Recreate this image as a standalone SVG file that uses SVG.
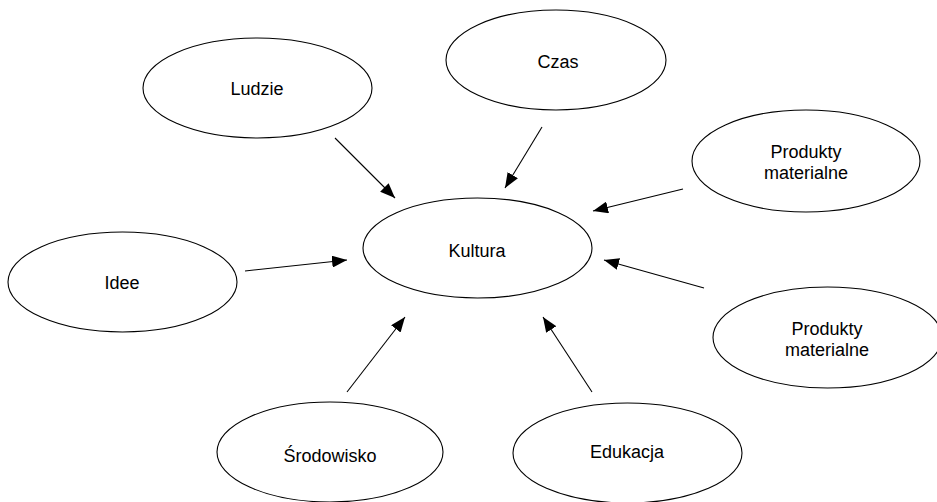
<svg xmlns="http://www.w3.org/2000/svg" width="937" height="502" viewBox="0 0 937 502">
<style>
.n{fill:#fff;stroke:#000;stroke-width:1.1}
.t{font-family:"Liberation Sans",Arial,sans-serif;font-size:18px;fill:#000;text-anchor:middle}
.c{stroke:#000;stroke-width:1.1;fill:none;marker-end:url(#ah)}
</style>
<defs>
<marker id="ah" markerUnits="userSpaceOnUse" markerWidth="16" markerHeight="12" refX="15" refY="6" orient="auto">
<path d="M0,0 L15,6 L0,12 Z" fill="#000"/>
</marker>
</defs>
<rect width="937" height="502" fill="#fff"/>
<g id="connectors">
<line class="c" x1="335" y1="138" x2="395" y2="198"/>
<line class="c" x1="542" y1="127" x2="505" y2="188"/>
<line class="c" x1="683" y1="189" x2="593" y2="211"/>
<line class="c" x1="245" y1="271" x2="347" y2="260"/>
<line class="c" x1="704" y1="288" x2="604" y2="260"/>
<line class="c" x1="347" y1="392" x2="405" y2="317"/>
<line class="c" x1="592" y1="392" x2="543" y2="317"/>
</g>
<g id="ludzie"><ellipse class="n" cx="257.5" cy="88" rx="114.5" ry="50"/><text class="t" x="257" y="95">Ludzie</text></g>
<g id="czas"><ellipse class="n" cx="556" cy="60" rx="110" ry="50"/><text class="t" x="558" y="68">Czas</text></g>
<g id="produkty1"><ellipse class="n" cx="806" cy="161" rx="114" ry="51"/><text class="t" x="806" y="158">Produkty</text><text class="t" x="806" y="179">materialne</text></g>
<g id="kultura"><ellipse class="n" cx="477.5" cy="248" rx="114.5" ry="50"/><text class="t" x="477" y="257">Kultura</text></g>
<g id="idee"><ellipse class="n" cx="122.5" cy="282" rx="114.5" ry="50"/><text class="t" x="122" y="289">Idee</text></g>
<g id="produkty2"><ellipse class="n" cx="827.5" cy="337.5" rx="114.5" ry="50.5"/><text class="t" x="827" y="335">Produkty</text><text class="t" x="827" y="356">materialne</text></g>
<g id="srodowisko"><ellipse class="n" cx="330" cy="452" rx="113" ry="50"/><text class="t" x="330" y="462">Środowisko</text></g>
<g id="edukacja"><ellipse class="n" cx="627.5" cy="453" rx="114.5" ry="50"/><text class="t" x="627" y="458">Edukacja</text></g>
</svg>
